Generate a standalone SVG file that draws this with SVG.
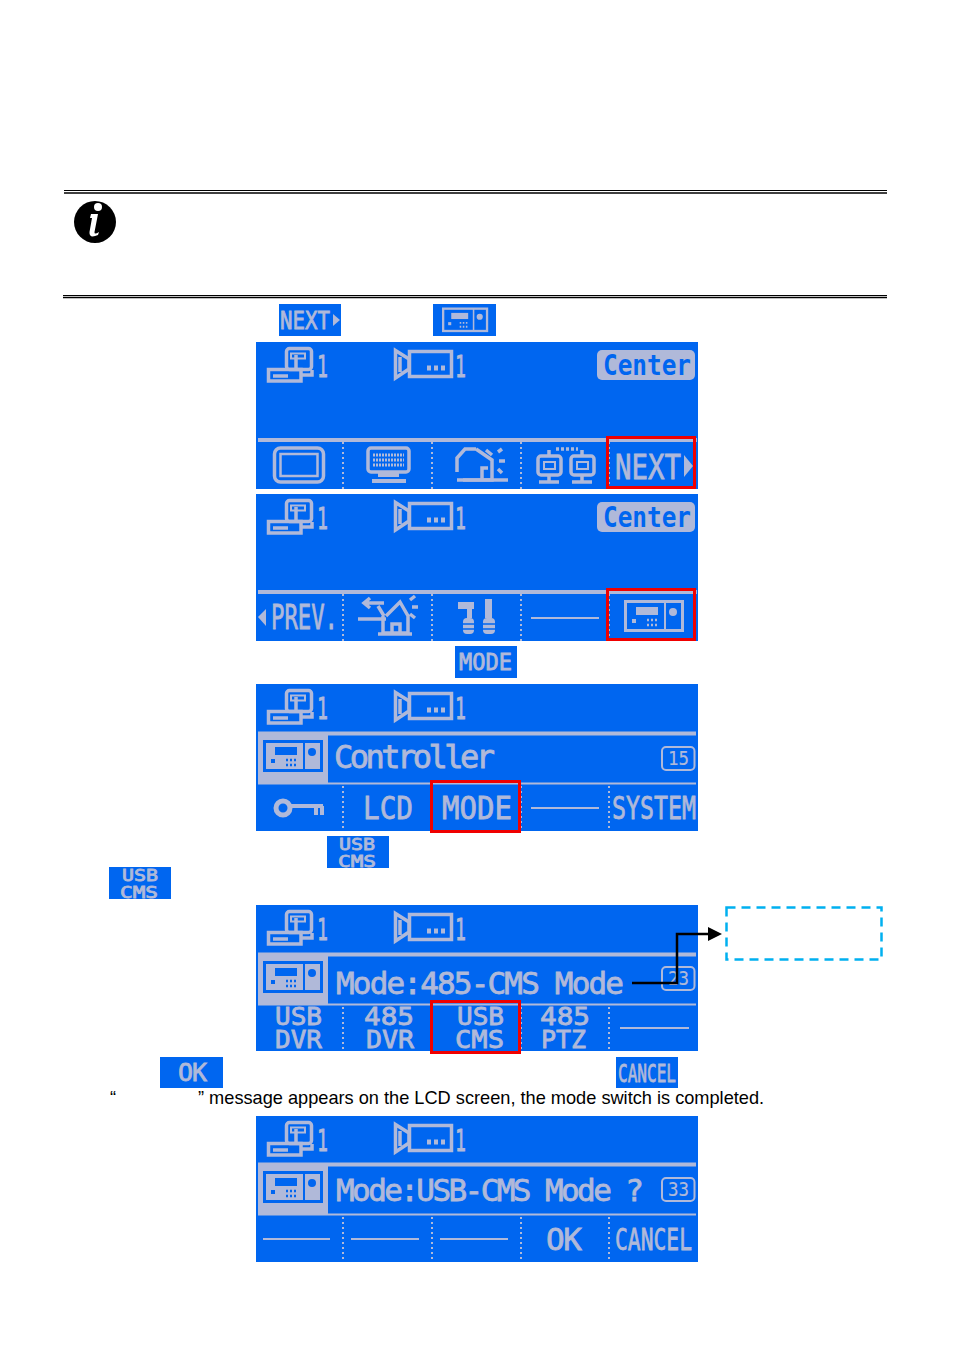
<svg xmlns="http://www.w3.org/2000/svg" xmlns:xlink="http://www.w3.org/1999/xlink" width="954" height="1354" viewBox="0 0 954 1354">
<style>
.bg{fill:#0066f0}
.lt{fill:#b0b9d9}
.ic{color:#b0b9d9;fill:none;stroke:#b0b9d9;stroke-width:3.500}
.t{font-family:"DejaVu Sans Mono","Liberation Mono",monospace;font-weight:400;fill:#b0b9d9;stroke:#b0b9d9;stroke-width:.8px}
.dash{stroke:#b0b9d9;stroke-width:2;fill:none}
.dot{stroke:#b0b9d9;stroke-width:2;stroke-dasharray:2 3;fill:none}
.red{fill:none;stroke:#f00000;stroke-width:3}
.rule{stroke:#000;fill:none}
.body{font-family:"Liberation Sans",Arial,sans-serif;font-size:18.200px;fill:#000}
</style>
<defs>
<g id="ctl">
<rect x="1.500" y="1.500" width="57" height="29" fill="none" stroke="currentColor" stroke-width="3"/>
<rect x="12" y="7" width="22" height="8" fill="currentColor"/>
<path d="M41 2V30" stroke="currentColor" stroke-width="2" fill="none"/>
<circle cx="49" cy="12" r="4" fill="currentColor"/>
<rect x="8" y="19" width="4" height="4" fill="currentColor"/>
<path d="M23 20h10M23 25h10" stroke="currentColor" stroke-width="2.500" stroke-dasharray="2 2" fill="none"/>
</g>
<g id="top">
<g class="ic">
<rect x="30.500" y="6.500" width="25" height="21" rx="3"/>
<rect x="35" y="11.500" width="14" height="5" stroke-width="2"/>
<path d="M12.500 27.500H45V39H12.500ZM17 34H32M40 13V27M46 33H56V28"/>
</g>
<text class="t" x="61" y="35" font-size="31" textLength="11" lengthAdjust="spacingAndGlyphs">1</text>
<g class="ic">
<rect x="153.500" y="9.500" width="42" height="25"/>
<path d="M139.500 8.500L153 17V27L139.500 36ZM144 15V30"/>
<path d="M171 26H189" stroke-width="5" stroke-dasharray="4 3"/>
</g>
<text class="t" x="199" y="35" font-size="31" textLength="11" lengthAdjust="spacingAndGlyphs">1</text>
</g>
<g id="centerTag">
<rect x="341" y="8" width="98" height="30" rx="5" class="lt"/>
<text x="347" y="33" font-size="28" textLength="88" lengthAdjust="spacingAndGlyphs" font-family="DejaVu Sans Mono,monospace" font-weight="700" fill="#0066f0">Center</text>
</g>
<g id="rowMain">
<path d="M2 98H441" stroke="#b0b9d9" stroke-width="4"/>
<path class="dot" d="M87 100V147M176 100V147M265 100V147M353 100V147"/>
</g>
</defs>
<rect width="954" height="1354" fill="#fff"/>

<g id="rules">
<path class="rule" stroke-width="1" d="M64 190.500H887"/>
<path class="rule" stroke-width="1.500" d="M64 193H887"/>
<path class="rule" stroke-width="1" d="M63 295.500H887"/>
<path class="rule" stroke-width="1.500" d="M63 297.500H887"/>
</g>
<g id="info-icon">
<circle cx="95" cy="222" r="21" fill="#000"/>
<circle cx="98" cy="207" r="4" fill="#fff"/>
<path d="M91 214H98L94.500 232Q94 235 99 232L98 235Q89 239 89.500 232L92 218H90Z" fill="#fff"/>
</g>

<g id="btn-next">
<rect x="279" y="304" width="62" height="32" class="bg"/>
<text class="t" x="280" y="329" font-size="25" textLength="50" lengthAdjust="spacingAndGlyphs">NEXT</text>
<path d="M333 314L340 320L333 326Z" class="lt"/>
</g>
<g id="btn-controller">
<rect x="433" y="304" width="63" height="32" class="bg"/>
<use xlink:href="#ctl" href="#ctl" transform="translate(442 307.500) scale(.77)" color="#b0b9d9"/>
</g>

<g id="panel-1" transform="translate(256 342)">
<rect width="442" height="147" class="bg"/>
<use xlink:href="#top" href="#top"/><use xlink:href="#centerTag" href="#centerTag"/><use xlink:href="#rowMain" href="#rowMain"/>
<g class="ic">
<rect x="18.500" y="106" width="49" height="34" rx="6"/>
<rect x="24.500" y="112" width="37" height="22" stroke-width="2.500"/>
<rect x="112" y="106" width="41" height="24" rx="3"/>
<path d="M117 113H148M117 118H148M117 123H148" stroke-width="3" stroke-dasharray="2 1"/>
<path d="M122 133H143M116 139H150" stroke-width="4"/>
<path d="M201 130V116L209 107H220M220 107L236 118V138H201M226 138V126H232M230 108L236 113M242 110L246 107M243 119H249M242 127L246 131"/>
<path d="M207 138H252" stroke-width="3.500"/>
<rect x="282" y="114" width="23" height="19" rx="3"/><rect x="315" y="114" width="23" height="19" rx="3"/>
<rect x="288" y="120" width="11" height="7" stroke-width="2"/><rect x="321" y="120" width="11" height="7" stroke-width="2"/>
<path d="M293 108V114M326 108V114M283 140H303M316 140H336M293 133V140M326 133V140"/>
<path d="M300 107H322" stroke-dasharray="3 2"/>
</g>
<text class="t" x="359" y="137" font-size="34" textLength="66" lengthAdjust="spacingAndGlyphs">NEXT</text>
<path d="M428 113L437 124L428 135Z" class="lt"/>
<rect x="351.500" y="95.500" width="87" height="50" class="red"/>
</g>

<g id="panel-2" transform="translate(256 494)">
<rect width="442" height="147" class="bg"/>
<use xlink:href="#top" href="#top"/><use xlink:href="#centerTag" href="#centerTag"/><use xlink:href="#rowMain" href="#rowMain"/>
<path d="M2 123L10 115V132Z" class="lt"/>
<text class="t" x="15" y="135" font-size="33" textLength="67" lengthAdjust="spacingAndGlyphs">PREV.</text>
<g class="ic">
<path d="M108 109H128M114 104L108 109L114 114M102 125H130M122 112L128 122M130 122L144 108L152 122V139H127V122M136 139V130H144V139M122 140H156M154 106L159 102M156 113H162M154 120L159 124"/>
</g>
<g id="tools">
<path d="M202 108H218V115H216V124H211V115H202ZM229 105H236V124H229Z" class="lt"/>
<rect x="207" y="124" width="11" height="16" rx="4" class="lt"/><rect x="227" y="124" width="12" height="16" rx="4" class="lt"/>
<path d="M207 130H218M207 135H218M227 130H239M227 135H239" stroke="#0066f0" stroke-width="1.500"/>
</g>
<path class="dash" d="M275 124H343"/>
<use xlink:href="#ctl" href="#ctl" x="368" y="106" color="#b0b9d9"/>
<rect x="351.500" y="95.500" width="87" height="50" class="red"/>
</g>

<g id="btn-mode">
<rect x="455" y="646" width="62" height="32" class="bg"/>
<text class="t" x="459" y="670" font-size="23" textLength="53" lengthAdjust="spacingAndGlyphs">MODE</text>
</g>

<g id="panel-3" transform="translate(256 684)">
<rect width="442" height="147" class="bg"/>
<use xlink:href="#top" href="#top"/>
<path d="M2 49.500H440" stroke="#b0b9d9" stroke-width="4"/>
<path d="M2 99.500H440" stroke="#b0b9d9" stroke-width="2"/>
<rect x="2" y="48" width="70" height="52" class="lt"/>
<use xlink:href="#ctl" href="#ctl" x="7" y="56" color="#0066f0"/>
<path class="dot" d="M87 102V147M176 102V147M265 102V147M353 102V147"/>
<text class="t" x="78" y="84" font-size="32" textLength="161" lengthAdjust="spacing">Controller</text>
<rect x="406" y="63" width="32.500" height="23" rx="4" fill="none" stroke="#b0b9d9" stroke-width="2"/>
<text class="t" x="412" y="81" font-size="20" textLength="21" lengthAdjust="spacingAndGlyphs" style="stroke-width:.2px">15</text>
<g class="ic">
<circle cx="27" cy="124" r="7" stroke-width="5"/>
<path d="M34 122H67M60 122V131M66 122V131" stroke-width="4"/>
</g>
<text class="t" x="107" y="135" font-size="32" textLength="50" lengthAdjust="spacingAndGlyphs">LCD</text>
<text class="t" x="186" y="135" font-size="32" textLength="70" lengthAdjust="spacingAndGlyphs">MODE</text>
<path class="dash" d="M275 124H343"/>
<text class="t" x="356" y="135" font-size="32" textLength="84" lengthAdjust="spacingAndGlyphs">SYSTEM</text>
<rect x="175.500" y="97.500" width="88" height="50" class="red"/>
</g>

<g id="btn-usbcms-1">
<rect x="327" y="836" width="62" height="32" class="bg"/>
<text class="t" x="339" y="850" font-size="16" textLength="36" lengthAdjust="spacingAndGlyphs">USB</text>
<text class="t" x="338" y="867" font-size="16" textLength="38" lengthAdjust="spacingAndGlyphs">CMS</text>
</g>
<g id="btn-usbcms-2">
<rect x="109" y="867" width="62" height="32" class="bg"/>
<text class="t" x="122" y="881" font-size="16" textLength="36" lengthAdjust="spacingAndGlyphs">USB</text>
<text class="t" x="120" y="898" font-size="16" textLength="38" lengthAdjust="spacingAndGlyphs">CMS</text>
</g>

<g id="panel-4" transform="translate(256 905)">
<rect width="442" height="146" class="bg"/>
<use xlink:href="#top" href="#top"/>
<path d="M2 49.500H440" stroke="#b0b9d9" stroke-width="4"/>
<path d="M2 99.500H440" stroke="#b0b9d9" stroke-width="2"/>
<rect x="2" y="48" width="70" height="52" class="lt"/>
<use xlink:href="#ctl" href="#ctl" x="7" y="56" color="#0066f0"/>
<path class="dot" d="M87 102V146M176 102V146M265 102V146M353 102V146"/>
<text class="t" x="80" y="89" font-size="31" textLength="288" lengthAdjust="spacing">Mode:485-CMS Mode</text>
<rect x="406" y="62" width="32.500" height="23" rx="4" fill="none" stroke="#b0b9d9" stroke-width="2"/>
<text class="t" x="412" y="80" font-size="20" textLength="21" lengthAdjust="spacingAndGlyphs" style="stroke-width:.2px">23</text>
<g font-size="24">
<text class="t" x="19" y="120" textLength="47" lengthAdjust="spacingAndGlyphs">USB</text>
<text class="t" x="19" y="143" textLength="47" lengthAdjust="spacingAndGlyphs">DVR</text>
<text class="t" x="108" y="120" textLength="50" lengthAdjust="spacingAndGlyphs">485</text>
<text class="t" x="110" y="143" textLength="48" lengthAdjust="spacingAndGlyphs">DVR</text>
<text class="t" x="201" y="120" textLength="47" lengthAdjust="spacingAndGlyphs">USB</text>
<text class="t" x="199" y="143" textLength="49" lengthAdjust="spacingAndGlyphs">CMS</text>
<text class="t" x="284" y="120" textLength="50" lengthAdjust="spacingAndGlyphs">485</text>
<text class="t" x="285" y="143" textLength="45" lengthAdjust="spacingAndGlyphs">PTZ</text>
</g>
<path class="dash" d="M364 123H433"/>
<rect x="175.500" y="96.500" width="88" height="51" class="red"/>
</g>

<g id="connectors">
<path d="M632 983H677V934H710" fill="none" stroke="#000" stroke-width="2.500"/>
<path d="M708 927L722 934L708 941Z" fill="#000"/>
</g>
<g id="callout">
<rect x="726.500" y="907.500" width="155" height="52" fill="none" stroke="#00b0f0" stroke-width="2.500" stroke-dasharray="9 6"/>
</g>

<g id="btn-ok">
<rect x="160" y="1057" width="63" height="31" class="bg"/>
<text class="t" x="178" y="1081" font-size="25" textLength="29" lengthAdjust="spacing">OK</text>
</g>
<g id="btn-cancel">
<rect x="616" y="1057" width="62" height="31" class="bg"/>
<text class="t" x="618" y="1082" font-size="25" textLength="58" lengthAdjust="spacingAndGlyphs">CANCEL</text>
</g>
<text class="body" x="110" y="1104">“</text>
<text class="body" x="198" y="1104">” message appears on the LCD screen, the mode switch is completed.</text>

<g id="panel-5" transform="translate(256 1116)">
<rect width="442" height="146" class="bg"/>
<use xlink:href="#top" href="#top"/>
<path d="M2 48.500H440" stroke="#b0b9d9" stroke-width="4"/>
<path d="M2 98.500H440" stroke="#b0b9d9" stroke-width="2"/>
<rect x="2" y="47" width="70" height="52" class="lt"/>
<use xlink:href="#ctl" href="#ctl" x="7" y="55" color="#0066f0"/>
<path class="dot" d="M87 101V146M176 101V146M265 101V146M353 101V146"/>
<text class="t" x="80" y="85" font-size="31" textLength="308" lengthAdjust="spacing">Mode:USB-CMS Mode ?</text>
<rect x="406" y="62" width="32.500" height="23" rx="4" fill="none" stroke="#b0b9d9" stroke-width="2"/>
<text class="t" x="412" y="80" font-size="20" textLength="21" lengthAdjust="spacingAndGlyphs" style="stroke-width:.2px">33</text>
<path class="dash" d="M7 123H74M95 123H163M184 123H252"/>
<text class="t" x="290" y="134" font-size="31" textLength="36" lengthAdjust="spacing">OK</text>
<text class="t" x="359" y="134" font-size="31" textLength="77" lengthAdjust="spacingAndGlyphs">CANCEL</text>
</g>
</svg>
